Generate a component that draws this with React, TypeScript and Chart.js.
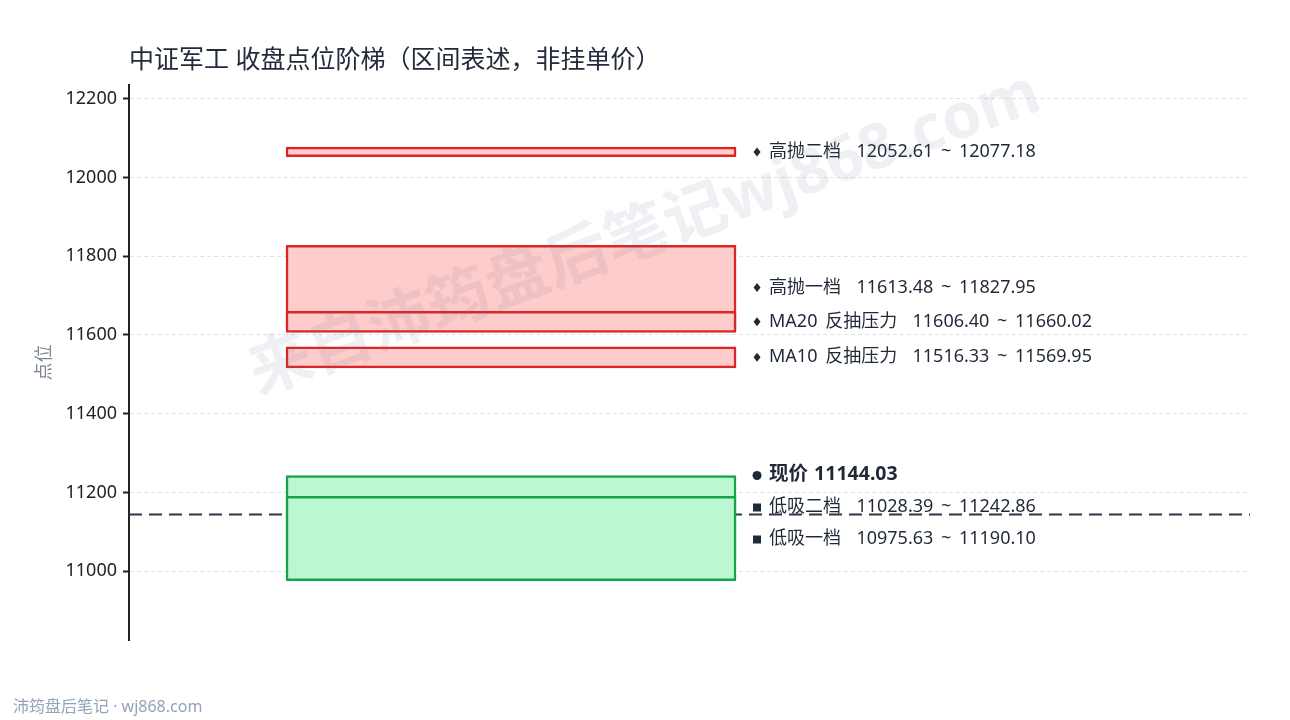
import React, { useEffect, useRef } from 'react';
import { Chart, registerables } from 'chart.js';

Chart.register(...registerables);

// zone data, top to bottom (also the drawing order)
const zoneNames = ['高抛二档', '高抛一档', 'MA20 反抽压力', 'MA10 反抽压力', '低吸二档', '低吸一档'];
const zoneLow = [12052.61, 11613.48, 11606.4, 11516.33, 11028.39, 10975.63];
const zoneHigh = [12077.18, 11827.95, 11660.02, 11569.95, 11242.86, 11190.1];
const zoneKind = ['sell', 'sell', 'sell', 'sell', 'buy', 'buy'];
const currentPrice = 11144.03;
const yTicks = [11000, 11200, 11400, 11600, 11800, 12000, 12200];
const yMin = 10825;
const yMax = 12235;

const BAR_X = 0.3408;
const FONT = "'Noto Sans', 'Noto Sans CJK SC', sans-serif";
const TEXT = '#1f2937';

const sellFill = '#ffcccc';
const sellEdge = '#dc2626';
const buyFill = '#bbf7d0';
const buyEdge = '#16a34a';

const zoneLabels = {
  id: 'zoneLabels',
  afterDatasetsDraw(chart: any) {
    const { ctx } = chart;
    const y = chart.scales.y;
    const bar = chart.getDatasetMeta(0).data[0];
    const right = bar.x + bar.width / 2;
    const items = zoneNames.map((n, i) => ({
      text: `${n}  ${zoneLow[i].toFixed(2)} ~ ${zoneHigh[i].toFixed(2)}`,
      value: (zoneLow[i] + zoneHigh[i]) / 2,
      marker: zoneKind[i] === 'sell' ? 'diamond' : 'square',
      bold: false,
    }));
    items.push({ text: `现价 ${currentPrice.toFixed(2)}`, value: currentPrice, marker: 'circle', bold: true });
    items.sort((a, b) => b.value - a.value);
    const ys = items.map((it) => y.getPixelForValue(it.value));
    for (let i = ys.length - 2; i >= 0; i--) ys[i] = Math.min(ys[i], ys[i + 1] - 32);

    ctx.save();
    const mx = right + 21;
    const tx = right + 33;
    items.forEach((it, i) => {
      const py = ys[i];
      ctx.fillStyle = TEXT;
      ctx.beginPath();
      if (it.marker === 'diamond') {
        ctx.moveTo(mx, py - 4.5);
        ctx.lineTo(mx + 3.5, py);
        ctx.lineTo(mx, py + 4.5);
        ctx.lineTo(mx - 3.5, py);
        ctx.closePath();
      } else if (it.marker === 'square') {
        ctx.rect(mx - 4, py - 3, 8, 8);
      } else {
        ctx.arc(mx, py + 1, 4.5, 0, Math.PI * 2);
      }
      ctx.fill();
      ctx.font = `${it.bold ? 'bold 19.5px' : '18px'} ${FONT}`;
      (ctx as any).wordSpacing = it.bold ? '1px' : '3px';
      ctx.textAlign = 'left';
      ctx.textBaseline = 'middle';
      ctx.fillText(it.text, tx, py);
    });
    ctx.restore();
  },
  afterDraw(chart: any) {
    const { ctx } = chart;
    ctx.save();
    // watermark
    ctx.translate(645, 235);
    ctx.rotate((-20 * Math.PI) / 180);
    ctx.font = `bold 63px ${FONT}`;
    ctx.fillStyle = 'rgba(100, 116, 150, 0.11)';
    ctx.textAlign = 'center';
    ctx.textBaseline = 'middle';
    ctx.fillText('来自沛筠盘后笔记wj868.com', 0, 0);
    ctx.restore();

    ctx.save();
    ctx.font = `16px ${FONT}`;
    ctx.fillStyle = '#94a3b8';
    ctx.textAlign = 'left';
    ctx.textBaseline = 'middle';
    ctx.fillText('沛筠盘后笔记 · wj868.com', 13, 707);
    ctx.restore();
  },
};

const App = (): JSX.Element => {
  const canvasRef = useRef<HTMLCanvasElement>(null);

  useEffect(() => {
    const ctx = canvasRef.current.getContext('2d');
    Chart.defaults.font.family = FONT;

    const chart = new Chart(ctx, {
      type: 'bar',
      data: {
        datasets: [
          {
            type: 'bar',
            data: zoneLow.map((lo, i) => ({ x: BAR_X, y: [lo, zoneHigh[i]] })),
            backgroundColor: zoneKind.map((k) => (k === 'sell' ? sellFill : buyFill)),
            borderColor: zoneKind.map((k) => (k === 'sell' ? sellEdge : buyEdge)),
            borderWidth: 2.5,
            borderSkipped: false,
            barThickness: 450,
            grouped: false,
            order: 0,
          } as any,
          {
            type: 'line',
            data: [
              { x: 0, y: currentPrice },
              { x: 1, y: currentPrice },
            ],
            borderColor: '#2d3748',
            borderWidth: 2,
            borderDash: [13, 7],
            pointRadius: 0,
            order: 10,
          } as any,
        ],
      },
      options: {
        animation: false,
        responsive: false,
        devicePixelRatio: 1,
        layout: { padding: { left: 0, right: 40, top: 0, bottom: 80 } },
        plugins: {
          legend: { display: false },
          tooltip: { enabled: false },
          title: {
            display: true,
            text: '中证军工 收盘点位阶梯（区间表述，非挂单价）',
            align: 'start',
            fullSize: false,
            color: '#222b3a',
            font: { size: 25, weight: 'normal', family: FONT },
            padding: { top: 46, bottom: 9 },
          },
        },
        scales: {
          x: {
            type: 'linear',
            min: 0,
            max: 1,
            offset: false,
            display: false,
          },
          y: {
            type: 'linear',
            min: yMin,
            max: yMax,
            afterBuildTicks: (s: any) => {
              s.ticks = yTicks.map((v) => ({ value: v }));
            },
            afterFit: (s: any) => {
              s.width = 129;
            },
            ticks: {
              color: '#222',
              font: { size: 18, family: FONT },
              padding: 6,
              callback: (v: any) => String(v),
            },
            grid: {
              color: '#e3e3e3',
              lineWidth: 1,
              tickColor: '#222',
              tickLength: 6,
              tickWidth: 2,
              tickBorderDash: [],
            },
            border: {
              display: true,
              color: '#222',
              width: 2,
              dash: [4, 3],
            },
            title: {
              display: true,
              text: '点位',
              color: '#7b8494',
              font: { size: 18, family: FONT },
              padding: { top: 34, bottom: 0 },
            },
          },
        },
      },
      plugins: [zoneLabels],
    } as any);

    return () => {
      chart.destroy();
    };
  }, []);

  return (
    <div style={{ position: 'fixed', left: 0, top: 0, width: 1290, height: 720, background: '#fff' }}>
      <canvas ref={canvasRef} width={1290} height={720} />
    </div>
  );
};

export default App;
